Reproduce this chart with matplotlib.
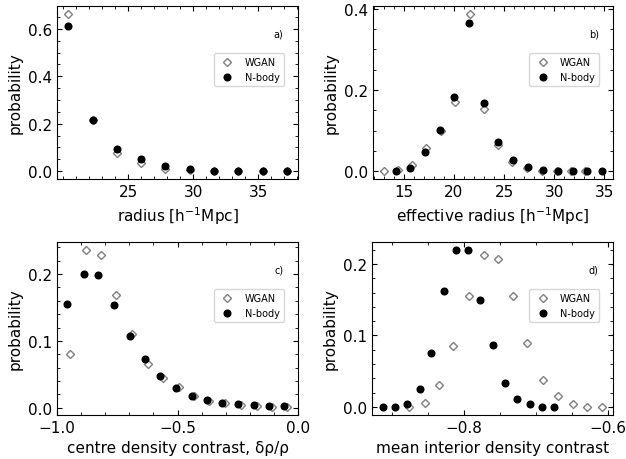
import matplotlib
matplotlib.use("Agg")
import matplotlib.pyplot as plt

plt.rcParams["font.family"] = ["DejaVu Sans"]
plt.rcParams["xtick.direction"] = "in"
plt.rcParams["ytick.direction"] = "in"
plt.rcParams["xtick.top"] = True
plt.rcParams["ytick.right"] = True
plt.rcParams["xtick.minor.visible"] = True
plt.rcParams["ytick.minor.visible"] = True

# a) radius
radius_x = [20.38, 22.28, 24.13, 26.00, 27.85, 29.74, 31.62, 33.49, 35.38, 37.23]
radius_wgan = [0.663, 0.215, 0.076, 0.034, 0.011, 0.003, 0.001, 0.0005, 0.0002, 0.0001]
radius_nbody = [0.611, 0.215, 0.094, 0.052, 0.020, 0.007, 0.002, 0.001, 0.0005, 0.0002]

# b) effective radius
eff_x_wgan = [12.97, 14.40, 15.83, 17.23, 18.73, 20.13, 21.57, 22.97, 24.43, 25.83,
              27.30, 28.80, 30.27, 31.73, 33.13]
eff_wgan = [0.0, 0.002, 0.015, 0.057, 0.099, 0.170, 0.387, 0.154, 0.064, 0.023,
            0.007, 0.001, 0.0, 0.0, 0.0]
eff_x_nbody = [14.17, 15.60, 17.10, 18.57, 20.00, 21.50, 22.97, 24.43, 25.93, 27.40,
               28.90, 30.37, 31.87, 33.33, 34.83]
eff_nbody = [0.0, 0.007, 0.047, 0.101, 0.183, 0.365, 0.167, 0.072, 0.028, 0.010,
             0.003, 0.001, 0.0, 0.0, 0.0]

# c) centre density contrast
cdc_x_wgan = [-0.946, -0.881, -0.818, -0.755, -0.687, -0.623, -0.560, -0.495, -0.431,
              -0.368, -0.302, -0.237, -0.172, -0.108, -0.046]
cdc_wgan = [0.080, 0.236, 0.229, 0.168, 0.110, 0.066, 0.045, 0.031, 0.018, 0.010,
            0.007, 0.004, 0.003, 0.002, 0.0015]
cdc_x_nbody = [-0.957, -0.890, -0.828, -0.764, -0.699, -0.637, -0.571, -0.506, -0.442,
               -0.379, -0.315, -0.250, -0.184, -0.122, -0.058]
cdc_nbody = [0.155, 0.200, 0.198, 0.153, 0.107, 0.073, 0.048, 0.029, 0.017, 0.011,
             0.0075, 0.006, 0.004, 0.0035, 0.0025]

# d) mean interior density contrast
mdc_x_wgan = [-0.876, -0.855, -0.835, -0.815, -0.793, -0.773, -0.753, -0.732, -0.712,
              -0.691, -0.670, -0.649, -0.629, -0.608]
mdc_wgan = [0.0, 0.006, 0.031, 0.085, 0.155, 0.213, 0.207, 0.155, 0.089, 0.038,
            0.015, 0.004, 0.0, 0.0]
mdc_x_nbody = [-0.913, -0.896, -0.880, -0.862, -0.846, -0.828, -0.812, -0.794, -0.778,
               -0.760, -0.743, -0.726, -0.709, -0.692, -0.675]
mdc_nbody = [0.0, 0.0, 0.004, 0.025, 0.076, 0.163, 0.220, 0.220, 0.150, 0.086,
             0.034, 0.011, 0.004, 0.0, 0.0]

# tick values per panel
xticks = [[25, 30, 35], [15, 20, 25, 30, 35], [-1.0, -0.5, 0.0], [-0.8, -0.6]]
yticks = [[0.0, 0.2, 0.4, 0.6], [0.0, 0.2, 0.4], [0.0, 0.1, 0.2], [0.0, 0.1, 0.2]]

panels = [
    (radius_x, radius_wgan, radius_x, radius_nbody, r"radius [h$^{-1}$Mpc]", "a)"),
    (eff_x_wgan, eff_wgan, eff_x_nbody, eff_nbody, r"effective radius [h$^{-1}$Mpc]", "b)"),
    (cdc_x_wgan, cdc_wgan, cdc_x_nbody, cdc_nbody, "centre density contrast, δρ/ρ", "c)"),
    (mdc_x_wgan, mdc_wgan, mdc_x_nbody, mdc_nbody, "mean interior density contrast", "d)"),
]

fig = plt.figure(figsize=(6.26, 4.6), dpi=100)
positions = [
    [0.0911, 0.6087, 0.385, 0.376],
    [0.5954, 0.6087, 0.3843, 0.376],
    [0.0911, 0.0963, 0.385, 0.3754],
    [0.5940, 0.0963, 0.3857, 0.3754],
]

for i, (pos, (xw, yw, xn, yn, xlabel, tag)) in enumerate(zip(positions, panels)):
    ax = fig.add_axes(pos)
    ax.plot(xw, yw, "D", ms=3.6, mfc="none", mec="#808080", mew=1.0, ls="none", label="WGAN")
    ax.plot(xn, yn, "o", ms=4.8, color="black", ls="none", label="N-body")
    ax.set_xticks(xticks[i])
    ax.set_yticks(yticks[i])
    ax.set_xlabel(xlabel, fontsize=11)
    ax.set_ylabel("probability", fontsize=11)
    ax.tick_params(labelsize=11)
    ax.text(0.94, 0.84, tag, transform=ax.transAxes, ha="right", va="center", fontsize=7)
    ax.legend(loc="upper right", bbox_to_anchor=(0.96, 0.755), fontsize=7,
              handletextpad=0.8)
    if i == 2:
        ax.set_xlim(-1.0, 0.0)

fig.savefig("out.png", dpi=100)
